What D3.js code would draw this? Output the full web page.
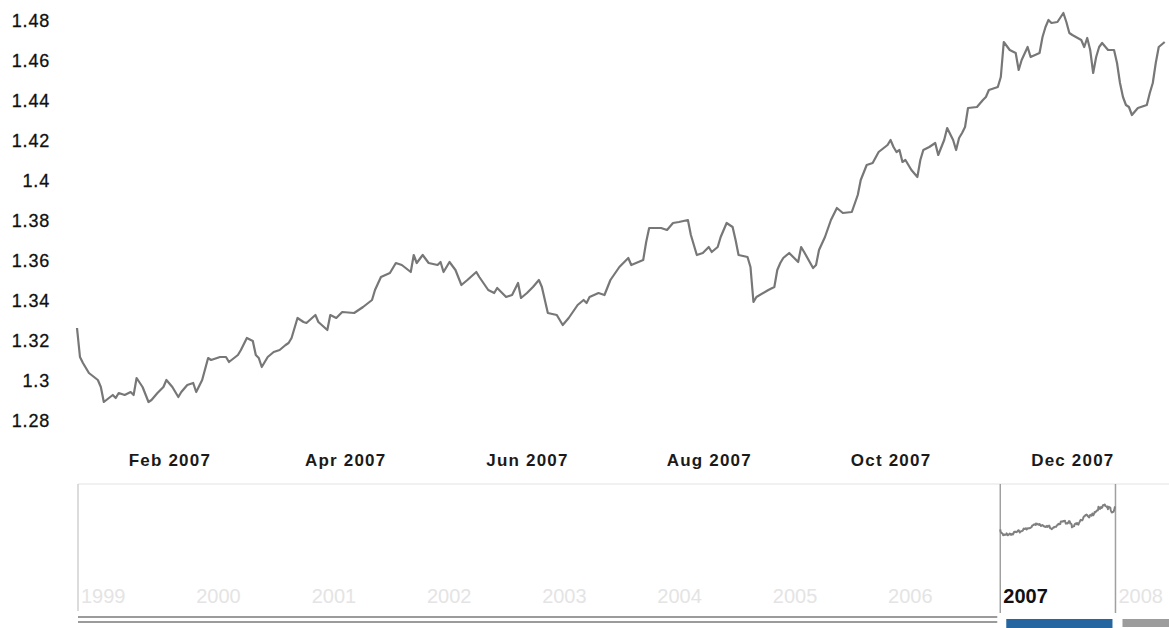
<!DOCTYPE html>
<html><head><meta charset="utf-8">
<script src="https://cdn.jsdelivr.net/npm/d3@7"></script>
<style>body{margin:0;background:#fff}svg{display:block}</style>
</head><body><svg id="c" width="1169" height="628"></svg>
<script>
// EUR/USD daily rate, 2007 (days since 1 Jan 2007)
const dayOffsets = [
  0,1,2,4,7,8,9,12,13,14,
  16,18,19,20,22,24,25,27,29,30,
  32,34,35,37,39,40,42,44,45,48,
  50,51,54,55,57,59,60,61,62,64,
  66,68,70,71,72,74,76,77,80,81,
  84,85,87,89,93,96,99,100,102,105,
  107,109,112,113,114,116,118,121,122,123,
  125,127,129,131,134,135,138,140,141,144,
  146,148,149,151,153,155,156,158,161,163,
  165,168,170,171,172,175,177,179,182,185,
  186,190,191,192,196,198,200,202,205,206,
  208,210,212,213,215,216,218,220,221,222,
  225,226,227,228,232,234,235,236,237,239,
  242,243,244,247,248,249,251,253,255,257,
  260,262,263,265,267,269,272,273,274,275,
  276,277,278,279,280,282,283,284,286,288,
  289,291,292,294,295,296,297,298,299,302,
  304,305,306,309,310,311,313,315,316,317,
  319,320,323,324,325,326,327,329,331,332,
  333,334,337,338,339,340,341,342,343,344,
  346,348,349,350,351,352,353,354,356,359,
  360,361,362,363,365
];
const eurUsd = [
  1.326,1.3115,1.3085,1.3035,1.300,1.2965,1.289,1.2925,1.291,1.2935,
  1.2925,1.294,1.2925,1.301,1.2965,1.289,1.290,1.2935,1.2965,1.300,
  1.2965,1.2915,1.294,1.2975,1.2985,1.294,1.300,1.311,1.310,1.3115,
  1.3115,1.309,1.3125,1.315,1.321,1.3195,1.3125,1.311,1.3065,1.3115,
  1.314,1.315,1.3175,1.3185,1.321,1.331,1.329,1.3285,1.3325,1.329,
  1.325,1.3325,1.331,1.334,1.3335,1.3365,1.340,1.345,1.3515,1.3535,
  1.3585,1.3575,1.354,1.3625,1.3585,1.3625,1.3585,1.3575,1.359,1.354,
  1.359,1.355,1.3475,1.350,1.354,1.3515,1.345,1.3435,1.346,1.3415,
  1.3425,1.3485,1.341,1.3435,1.3465,1.350,1.3465,1.3335,1.3325,1.3275,
  1.331,1.3375,1.340,1.3385,1.3415,1.3435,1.3425,1.350,1.3565,1.361,
  1.3575,1.360,1.369,1.376,1.376,1.375,1.3785,1.379,1.380,1.3725,
  1.3625,1.3635,1.3665,1.364,1.3665,1.3715,1.3785,1.3765,1.370,1.3625,
  1.3615,1.3565,1.339,1.3415,1.345,1.3465,1.355,1.3585,1.361,1.3635,
  1.359,1.3665,1.364,1.356,1.3575,1.365,1.3715,1.380,1.386,1.3835,
  1.384,1.3925,1.400,1.4075,1.4085,1.414,1.4175,1.420,1.4165,1.414,
  1.415,1.409,1.410,1.4075,1.405,1.4015,1.410,1.415,1.4165,1.4185,
  1.4125,1.420,1.426,1.420,1.415,1.421,1.4235,1.4265,1.436,1.4365,
  1.440,1.4415,1.445,1.4465,1.4515,1.469,1.465,1.4635,1.455,1.460,
  1.4665,1.4615,1.4635,1.4715,1.4765,1.480,1.4785,1.479,1.4835,1.479,
  1.4735,1.4725,1.470,1.4665,1.471,1.465,1.4535,1.4615,1.4665,1.4685,
  1.465,1.465,1.4585,1.4485,1.4415,1.4375,1.4365,1.4325,1.436,1.4375,
  1.4435,1.4485,1.4585,1.4665,1.469
];
const yTickValues = [1.28,1.30,1.32,1.34,1.36,1.38,1.40,1.42,1.44,1.46,1.48];
const yTickLabels = ["1.28","1.3","1.32","1.34","1.36","1.38","1.4","1.42","1.44","1.46","1.48"];
const monthTicks = ["2007-02-01","2007-04-01","2007-06-01","2007-08-01","2007-10-01","2007-12-01"];
const monthLabels = ["Feb 2007","Apr 2007","Jun 2007","Aug 2007","Oct 2007","Dec 2007"];
const navYears = [1999,2000,2001,2002,2003,2004,2005,2006,2007,2008];
const selectedYear = 2007;

const svg = d3.select("#c");
const FONT = "'Liberation Sans', Arial, Helvetica, sans-serif";
const start = new Date(2007,0,1);
const data = dayOffsets.map((d,i) => ({date: d3.timeDay.offset(start, d), v: eurUsd[i]}));

// main scales
const x = d3.scaleTime().domain([start, new Date(2008,0,1)]).range([77, 1164.7]);
const y = d3.scaleLinear().domain([1.28, 1.48]).range([420, 20]);

// y axis labels
const yAxis = d3.axisLeft(y).tickValues(yTickValues)
  .tickFormat((d,i) => yTickLabels[i]).tickSize(0).tickPadding(0);
const gy = svg.append("g").attr("transform","translate(50,0)").call(yAxis);
gy.select(".domain").remove();
gy.selectAll("text").attr("font-family",FONT).attr("font-size",18)
  .attr("letter-spacing","0.8px").attr("fill","#111").attr("stroke","#111").attr("stroke-width",0.3)
  .attr("dy","0.35em");

// x axis labels
const parse = d3.timeParse("%Y-%m-%d");
const xAxis = d3.axisBottom(x).tickValues(monthTicks.map(parse))
  .tickFormat((d,i) => monthLabels[i]).tickSize(0).tickPadding(0);
const gx = svg.append("g").attr("transform","translate(0,454)").call(xAxis);
gx.select(".domain").remove();
gx.selectAll("text").attr("font-family",FONT).attr("font-size",17).attr("font-weight","bold")
  .attr("letter-spacing","1.2px").attr("fill","#1a1a1a");

// main line
svg.append("path").datum(data)
  .attr("fill","none").attr("stroke","#777").attr("stroke-width",2.2)
  .attr("stroke-linejoin","round")
  .attr("d", d3.line().x(d => x(d.date)).y(d => y(d.v)));

// navigator
const navX = d3.scaleTime().domain([new Date(1999,0,1), new Date(2009,0,1)]).range([78, 1231]);
const navY = d3.scaleLinear().domain([0.83, 1.48]).range([608, 505]);
const selStart = navX(new Date(selectedYear,0,1));
const selEnd = navX(new Date(selectedYear+1,0,1));

svg.append("line").attr("x1",78).attr("x2",1169).attr("y1",484).attr("y2",484)
  .attr("stroke","#ececec").attr("stroke-width",1.5);
svg.append("line").attr("x1",78).attr("x2",78).attr("y1",484).attr("y2",611)
  .attr("stroke","#d0d0d0").attr("stroke-width",1.5);
[selStart, selEnd].forEach(px => {
  svg.append("line").attr("x1",px).attr("x2",px).attr("y1",484).attr("y2",613)
    .attr("stroke","#a0a0a0").attr("stroke-width",1.5);
});

svg.append("path").datum(data)
  .attr("fill","none").attr("stroke","#808080").attr("stroke-width",2)
  .attr("stroke-linejoin","round")
  .attr("d", d3.line().x(d => navX(d.date)).y(d => navY(d.v)));

svg.selectAll("text.yr").data(navYears).join("text").attr("class","yr")
  .attr("x", d => navX(new Date(d,0,1)) + 3).attr("y", 603)
  .attr("font-family",FONT).attr("font-size",20)
  .attr("font-weight", d => d === selectedYear ? "bold" : "normal")
  .attr("fill", d => d === selectedYear ? "#111" : "#e4e4e4")
  .text(d => String(d));

// scrollbar
[617, 622].forEach(yy => {
  svg.append("line").attr("x1",78).attr("x2",selStart-3).attr("y1",yy).attr("y2",yy)
    .attr("stroke","#7a7a7a").attr("stroke-width",1.6);
});
svg.append("rect").attr("x",selStart+6).attr("y",619).attr("width",selEnd-selStart-9).attr("height",9)
  .attr("fill","#2566a0");
svg.append("rect").attr("x",selEnd+7).attr("y",619).attr("width",1169-selEnd-7).attr("height",8)
  .attr("fill","#9c9c9c");
</script>
</body></html>
